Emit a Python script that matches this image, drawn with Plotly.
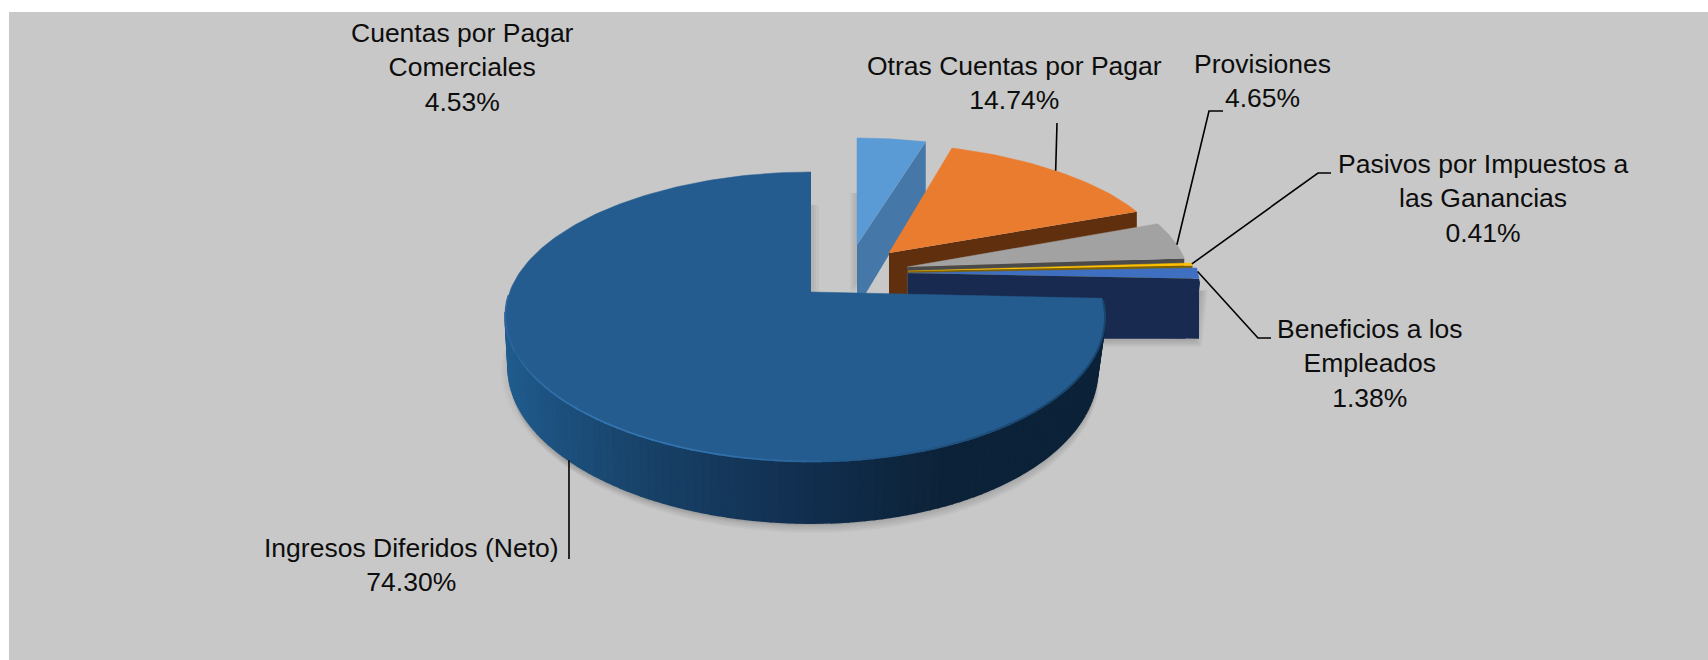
import numpy as np
import plotly.graph_objects as go

# ---------- data ----------
SLICE_NAMES = ["Cuentas por Pagar<br>Comerciales", "Otras Cuentas por Pagar", "Provisiones",
               "Pasivos por Impuestos a<br>las Ganancias", "Beneficios a los<br>Empleados",
               "Ingresos Diferidos (Neto)"]
SLICE_PERCENT = [4.53, 14.74, 4.65, 0.41, 1.38, 74.30]

# ---------- style / layout ----------
TOP_COLORS = ["#5b9bd5", "#ea7c30", "#a2a2a2", "#ffc000", "#3f6fc0", "#255c8f"]
SIDE_COLORS = ["#4578a9", "#60300e", "#4a4a4a", "#7f6000", "#182a4f", "#1c4a75"]
W, H = 1708, 660
# projected geometry of each exploded slice: apex x/y, rx, ry, horizontal skew, perspective
GEOM = [
    dict(ax=857, ay=245, rx=261, ry=120, ex=39, k=0.121),
    dict(ax=889, ay=253, rx=238, ry=122, ex=39, k=0.121),
    dict(ax=907, ay=267, rx=250, ry=128, ex=30, k=0.121),
    dict(ax=908, ay=271, rx=246, ry=130, ex=40, k=0.121),
    dict(ax=908, ay=273, rx=250, ry=130, ex=40, k=0.121),
    dict(ax=811, ay=292, rx=295.4, ry=140.7, ex=-6, k=0.172),
]
CUT_DEPTH_APEX = [63, 70, 60, 60, 60, 0]
CUT_DEPTH_RIM = [52, 62, 60, 60, 60, 0]
BIG_DROP, BIG_SCALE_RIGHT, BIG_SCALE_LEFT, BIG_SCALE_Y = 50, 0.975, 0.99, 1.065
WALL_END_ANGLE = 262

LABEL_POS = [(462, 67), (1014, 83), (1262, 81), (1483, 198), (1370, 363), (411, 565)]
# leader: elbow points after the point on the slice rim
LEADER_ELBOWS = [None, [(1057, 123)], [(1209, 111), (1223, 111)], [(1318, 173), (1331, 173)],
                 [(1258, 338), (1271, 338)], [(569, 559)]]
LEADER_RIM_FRACTION = [None, 0.5, 0.62, 0.5, 0.35, None]
LEADER_BIG_ANGLE = 226.0
FONT = "Liberation Sans"
FONT_SIZE = 26.5

# wall colour as a function of horizontal position
WALL_STOPS = [(506, (32, 92, 142)), (560, (28, 80, 125)), (640, (24, 66, 105)), (720, (20, 56, 92)),
              (800, (18, 47, 80)), (880, (14, 40, 66)), (950, (12, 34, 56)), (1104, (12, 34, 56))]


def rim(g, deg):
    t = np.radians(np.asarray(deg, dtype=float))
    s = 1.0 / (1.0 + g["k"] * np.cos(t))
    x = g["ax"] + g["ex"] * np.sin(t) ** 2 + g["rx"] * np.sin(t) * s
    y = g["ay"] - g["ry"] * np.cos(t) * s
    return x, y


def big_bottom(g, deg):
    t = np.radians(np.asarray(deg, dtype=float))
    s = 1.0 / (1.0 + g["k"] * np.cos(t))
    scale = np.where(np.sin(t) >= 0, BIG_SCALE_RIGHT, BIG_SCALE_LEFT)
    x = g["ax"] + g["ex"] * np.sin(t) ** 2 + scale * g["rx"] * np.sin(t) * s
    y = g["ay"] + BIG_DROP - BIG_SCALE_Y * g["ry"] * np.cos(t) * s
    return x, y


def poly(fig, xs, ys, color, name="", lw=0):
    fig.add_trace(go.Scatter(x=list(xs), y=list(ys), mode="lines", fill="toself", fillcolor=color,
                             line=dict(color=color, width=lw), name=name, hoverinfo="text" if name else "skip",
                             text=name, showlegend=False))


def curve(fig, xs, ys, color, width):
    fig.add_trace(go.Scatter(x=list(xs), y=list(ys), mode="lines", line=dict(color=color, width=width),
                             hoverinfo="skip", showlegend=False))


def mix(c0, c1, u):
    return tuple(a + (b - a) * u for a, b in zip(c0, c1))


def css(c):
    return "rgb(%d,%d,%d)" % tuple(round(v) for v in c)


def wall_color(x):
    for (x0, c0), (x1, c1) in zip(WALL_STOPS, WALL_STOPS[1:]):
        if x <= x1:
            return css(mix(c0, c1, max(0.0, (x - x0) / (x1 - x0))))
    return css(WALL_STOPS[-1][1])


edges = np.concatenate([[0], np.cumsum(SLICE_PERCENT)]) * 3.6
edges[-1] = 360.0
spans = list(zip(edges[:-1], edges[1:]))

fig = go.Figure()

# soft shadows
big = GEOM[5]
b0, b1 = spans[5]
side_angles = np.linspace(b0, WALL_END_ANGLE, 120)
for grow in (11, 9, 7, 5, 3):
    bx, by = big_bottom(big, np.linspace(100, 268, 60))
    poly(fig, bx + grow * 0.15, by + grow * 0.9, "rgba(0,0,0,0.03)")
    poly(fig, bx - grow * 0.7, by + grow * 0.3, "rgba(0,0,0,0.012)")
    poly(fig, [1000, 1199 + grow * 0.8, 1193 + grow * 0.8, 1100],
         [320, 290, 339 + grow * 0.7, 339 + grow * 0.7], "rgba(0,0,0,0.03)")

# back to front: the small slices, then the large one
for i in range(5):
    g, (a0, a1) = GEOM[i], spans[i]
    for grow in (7, 5, 3) if i == 0 else ():
        x, y = rim(g, np.linspace(a0, a1, 12))
        poly(fig, [g["ax"] - grow] + list(x - grow), [g["ay"] + 48] + list(y + 55), "rgba(0,0,0,0.03)")
    ex, ey = rim(g, a1)
    poly(fig, [g["ax"], ex, ex, g["ax"]],
         [g["ay"], ey, ey + CUT_DEPTH_RIM[i], g["ay"] + CUT_DEPTH_APEX[i]], SIDE_COLORS[i])
    if i == 4:
        # outer wall of the right-hand slice
        poly(fig, [ex, ex + 1, ex - 5, ex - 14, 1090], [ey, ey + 4, ey + 54, ey + 60, ey + 60], SIDE_COLORS[i])
    x, y = rim(g, np.linspace(a0, a1, 30))
    poly(fig, [g["ax"]] + list(x), [g["ay"]] + list(y), TOP_COLORS[i],
         name=f"{SLICE_NAMES[i]}: {SLICE_PERCENT[i]:.2f}%", lw=0.5)

# shadow cast by the large slice's cut edge
for grow in (8, 5, 3):
    poly(fig, [811, 811 + grow, 811 + grow, 811], [205, 205, 292, 292], "rgba(0,0,0,0.03)")

# outer wall of the large slice, shaded strip by strip
for a, c in zip(side_angles[:-1], side_angles[1:]):
    xt, yt = rim(big, [a, c])
    xb, yb = big_bottom(big, [c, a])
    poly(fig, list(xt) + list(xb), list(yt) + list(yb), wall_color(float(xt.mean())), lw=2)

x, y = rim(big, np.linspace(b0, b1, 240))
poly(fig, [big["ax"]] + list(x), [big["ay"]] + list(y), TOP_COLORS[5],
     name=f"{SLICE_NAMES[5]}: {SLICE_PERCENT[5]:.2f}%", lw=0.5)

# bevel on the large slice's rim: bright on the left, dark on the right
TOP_RGB = (37, 92, 143)
BRIGHT_RGB = (52, 118, 178)
DARK_RGB = (26, 70, 110)
bevel = np.linspace(176, 268, 40)
for a, c in zip(bevel[:-1], bevel[1:]):
    hx, hy = rim(big, [a, c + 0.5])
    u = np.sin(np.pi * min(1.0, (a - 176) / 70.0)) ** 0.6 if a < 246 else 0.45
    curve(fig, hx, hy - 0.5, css(mix(TOP_RGB, BRIGHT_RGB, float(u))), 1.6)
shade = np.linspace(b0 + 1, 176, 40)
for a, c in zip(shade[:-1], shade[1:]):
    hx, hy = rim(big, [a, c + 0.5])
    u = min(1.0, (176 - a) / 40.0)
    curve(fig, hx, hy - 0.5, css(mix(TOP_RGB, DARK_RGB, u)), 2)

# leader lines
for i, elbow in enumerate(LEADER_ELBOWS):
    if elbow is None:
        continue
    a0, a1 = spans[i]
    if i == 5:
        sx, sy = big_bottom(big, LEADER_BIG_ANGLE)
    else:
        sx, sy = rim(GEOM[i], a0 + (a1 - a0) * LEADER_RIM_FRACTION[i])
    curve(fig, [float(sx)] + [p[0] for p in elbow], [float(sy)] + [p[1] for p in elbow], "#000000", 1.6)

# labels
for name, pct, (lx, ly) in zip(SLICE_NAMES, SLICE_PERCENT, LABEL_POS):
    fig.add_annotation(x=lx, y=ly, text=f"{name}<br>{pct:.2f}%", showarrow=False, xanchor="center", yanchor="middle",
                       align="center", font=dict(family=FONT, size=FONT_SIZE, color="#0d0d0d"))

fig.update_layout(
    width=W, height=H, autosize=False, margin=dict(l=9, t=12, r=0, b=0, pad=0),
    paper_bgcolor="#ffffff", plot_bgcolor="#c8c8c8", showlegend=False,
    xaxis=dict(range=[9, W], visible=False, fixedrange=True),
    yaxis=dict(range=[H, 12], visible=False, fixedrange=True),
)
fig.write_html("out.html", config={"displayModeBar": False},
               post_script="document.body.style.margin='0';document.body.style.overflow='hidden';")
